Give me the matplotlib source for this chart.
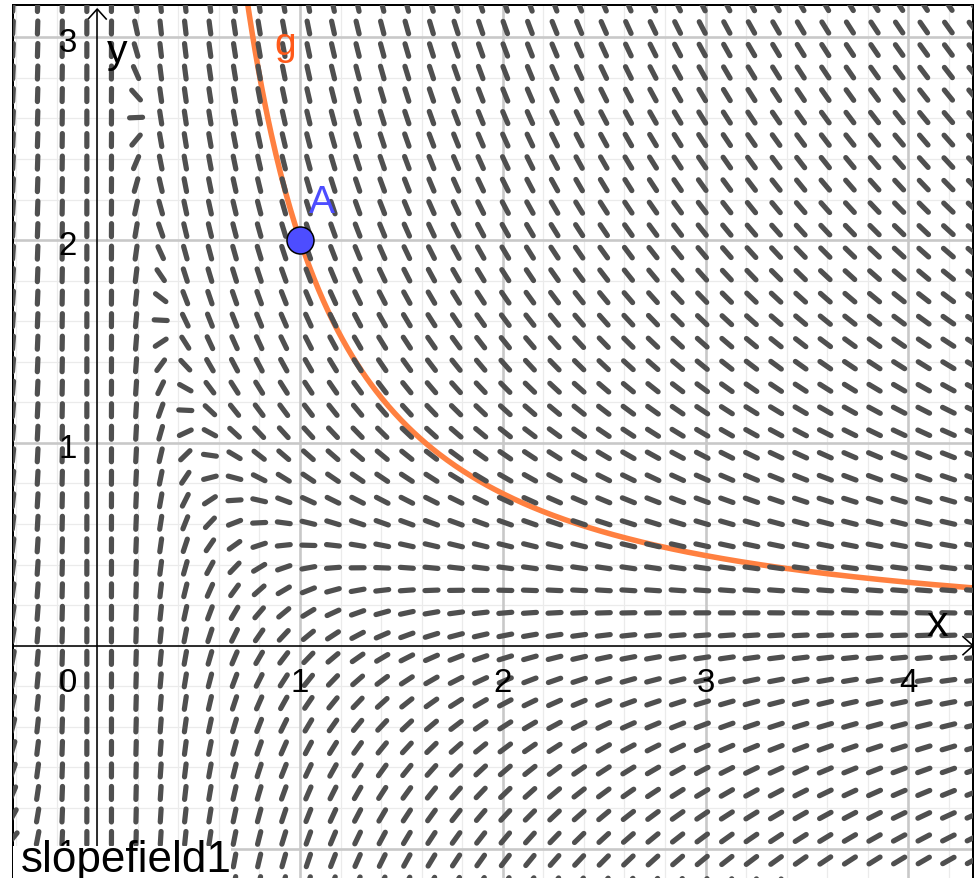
import matplotlib
matplotlib.use("Agg")
import matplotlib.pyplot as plt
import numpy as np
from matplotlib.collections import LineCollection
from matplotlib.patches import Rectangle

# ---- data -------------------------------------------------------------
# slope field of dy/dx = (1 - 2xy) / x^2, solution through A: g(x) = 1/x + 1/x^2
point_A = (1, 2)
x_tick_vals = [1, 2, 3, 4]
y_tick_vals = [-1, 1, 2, 3]
x_major = [1, 2, 3, 4]
y_major = [-1, 1, 2, 3]
field_steps = 39          # segments per direction (GeoGebra default)
field_label = "slopefield1"
curve_label = "g"

def slope(x, y):
    return (1 - 2 * x * y) / x ** 2

def g(x):
    return 1 / x + 1 / x ** 2

# ---- screen mapping of the original view -----------------------------
W, H = 978, 879
UNIT = 202.8                  # px per unit
X0, Y0 = 97.2, 646.7          # pixel position of the origin
PT = 0.72                     # px -> pt at dpi 100

def px2x(px):
    return (px - X0) / UNIT

def py2y(py):
    return (Y0 - py) / UNIT

fig = plt.figure(figsize=(W / 100, H / 100), dpi=100)
left_px, right_px, top_px = 13, 973, 6
ax = fig.add_axes([left_px / W, 0, (right_px - left_px) / W, (H - top_px) / H])
ax.set_xlim(px2x(left_px), px2x(right_px))
ax.set_ylim(py2y(H), py2y(top_px))
ax.set_xticks([])
ax.set_yticks([])
for side in ["left", "top", "right"]:
    ax.spines[side].set_linewidth(2 * PT)
    ax.spines[side].set_color("black")
ax.spines["bottom"].set_visible(False)

# grid
x0, x1 = ax.get_xlim()
y0, y1 = ax.get_ylim()
for v in np.arange(np.ceil(x0 * 5) / 5, x1, 0.2):
    ax.axvline(v, color="#ebebeb", lw=1.2 * PT, zorder=0.5)
for v in np.arange(np.ceil(y0 * 5) / 5, y1, 0.2):
    ax.axhline(v, color="#ebebeb", lw=1.2 * PT, zorder=0.5)
for v in x_major:
    ax.axvline(v, color="#c8c8c8", lw=2.6 * PT, zorder=0.6)
for v in y_major:
    ax.axhline(v, color="#c8c8c8", lw=2.6 * PT, zorder=0.6)

# axes with open arrow heads
ax.plot([x0, x1], [0, 0], color="black", lw=1.6 * PT, zorder=2.5, solid_capstyle="butt")
ax.plot([0, 0], [y0, py2y(10)], color="black", lw=1.6 * PT, zorder=2.5, solid_capstyle="butt")
a = 10 / UNIT
ax.plot([x1 - a, x1, x1 - a], [a * 0.9, 0, -a * 0.9], color="black", lw=1.6 * PT, zorder=2.5)
ty = py2y(10)
ax.plot([-a * 0.9, 0, a * 0.9], [ty - a, ty, ty - a], color="black", lw=1.6 * PT, zorder=2.5)

# solution curve g
xs = np.linspace(0.6, 4.5, 500)
ax.plot(xs, g(xs), color="#ff8040", lw=5.5 * PT, zorder=2, solid_capstyle="butt")

# slope field segments (view bounds from the GeoGebra graphics view)
fx = np.linspace(px2x(left_px), px2x(right_px), field_steps + 1)
fy = np.linspace(py2y(884), py2y(top_px), field_steps + 1)
half = 6.5 / UNIT
segs = []
for xx in fx:
    for yy in fy:
        m = slope(xx, yy)
        n = np.hypot(1, m)
        dx, dy = half / n, half * m / n
        segs.append([(xx - dx, yy - dy), (xx + dx, yy + dy)])
lc = LineCollection(segs, colors="#4f4f4f", linewidths=5.2 * PT, capstyle="round", zorder=3)
ax.add_collection(lc)

# point A
ax.plot(*point_A, "o", ms=27 * PT, mfc="#4d4dff", mec="black", mew=1.5 * PT, zorder=5)

font = "Liberation Sans"
# tick labels
for v in x_tick_vals:
    ax.text(v, py2y(692), str(v), ha="center", va="baseline", fontsize=33 * PT, family=font, zorder=6)
ax.text(px2x(77), py2y(692), "0", ha="right", va="baseline", fontsize=33 * PT, family=font, zorder=6)
for v in y_tick_vals:
    ax.text(px2x(77), v + py2y(Y0 + 14), str(v).replace("-", "\u2212"), ha="right", va="baseline",
            fontsize=33 * PT, family=font, zorder=5.4)

# axis names and object labels
ax.text(px2x(927), py2y(636), "x", ha="left", va="baseline", fontsize=43 * PT, family=font, zorder=6)
ax.text(px2x(107), py2y(63), "y", ha="left", va="baseline", fontsize=41 * PT, family=font, zorder=6)
ax.text(px2x(309), py2y(213), "A", ha="left", va="baseline", fontsize=39 * PT, family=font,
        color="#4d4dff", zorder=6)
ax.text(px2x(274), py2y(55), curve_label, ha="left", va="baseline", fontsize=39 * PT, family=font,
        color="#ff5a1a", zorder=6)

# caption of the slope field sits on a white box in the lower left corner
ax.add_patch(Rectangle((px2x(left_px), py2y(H)), (231 - left_px) / UNIT, (H - 847) / UNIT,
                       facecolor="white", edgecolor="none", zorder=5.5))
ax.text(px2x(21), py2y(872), field_label, ha="left", va="baseline", fontsize=44 * PT, family=font,
        color="black", zorder=6)

fig.savefig("out.png", dpi=100)
